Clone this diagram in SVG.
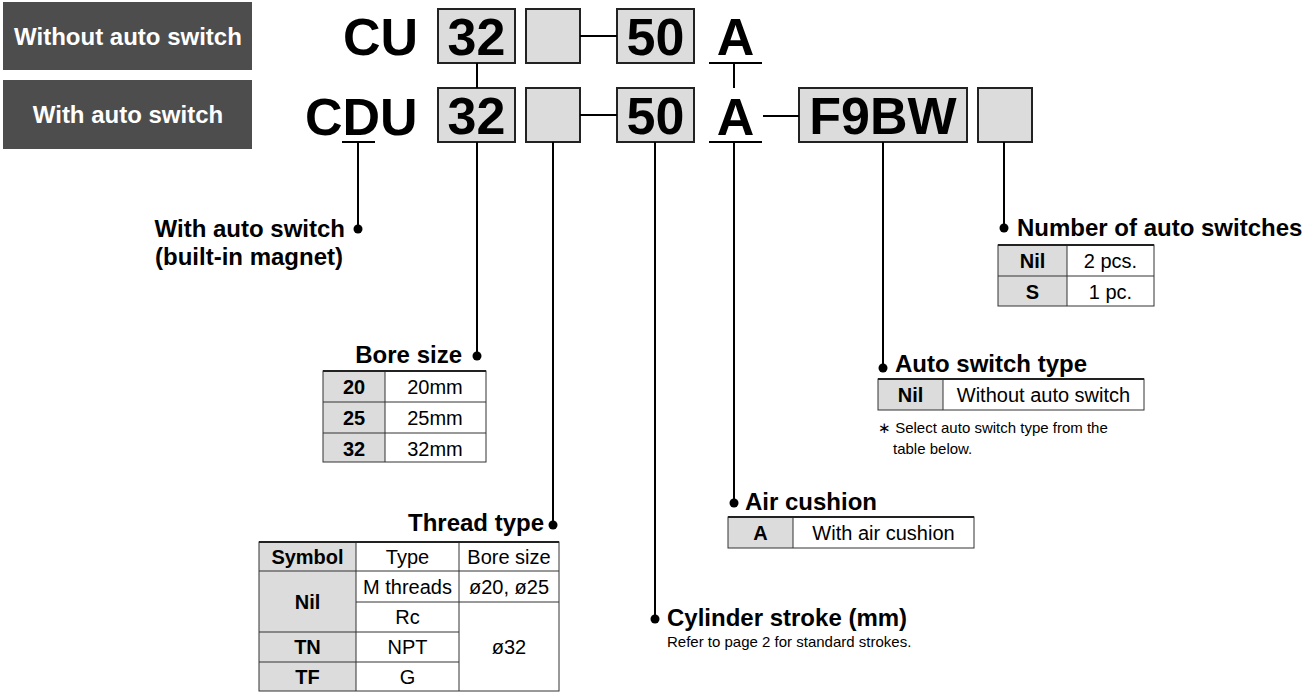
<svg xmlns="http://www.w3.org/2000/svg" width="1314" height="692" viewBox="0 0 1314 692">
<style>
text{font-family:"Liberation Sans",Arial,sans-serif;fill:#000}
.lbl{font-size:24px;font-weight:bold;fill:#fff}
.big{font-size:52px;font-weight:bold}
.box{fill:#dcdcdc;stroke:#222;stroke-width:2}
.ln{stroke:#000;stroke-width:2;fill:none}
.h{font-size:24px;font-weight:bold}
.c{font-size:20px;text-anchor:middle}
.cb{font-size:20px;font-weight:bold;text-anchor:middle}
.g{fill:#dcdcdc}
.tb{stroke:#333;stroke-width:1;fill:none}
.tt{stroke:#222;stroke-width:2}
.note{font-size:15px}
</style>
<g id="label-without"><rect x="3" y="2" width="249" height="68" fill="#4d4d4d"/><text class="lbl" x="128" y="45" text-anchor="middle">Without auto switch</text></g>
<g id="label-with"><rect x="3" y="80" width="249" height="69" fill="#4d4d4d"/><text class="lbl" x="128" y="123" text-anchor="middle">With auto switch</text></g>

<g id="row-top">
<text class="big" x="343" y="55">CU</text>
<rect class="box" x="438" y="9" width="77" height="54"/><text class="big" x="476.5" y="55" text-anchor="middle">32</text>
<rect class="box" x="526" y="9" width="54" height="54"/>
<rect class="box" x="617" y="9" width="77" height="54"/><text class="big" x="655.5" y="55" text-anchor="middle">50</text>
<text class="big" x="735.5" y="55" text-anchor="middle">A</text>
</g>
<g id="row-bottom">
<text class="big" x="305" y="135">CDU</text>
<rect class="box" x="438" y="88" width="77" height="54"/><text class="big" x="476.5" y="134" text-anchor="middle">32</text>
<rect class="box" x="526" y="88" width="54" height="54"/>
<rect class="box" x="617" y="88" width="77" height="54"/><text class="big" x="655.5" y="134" text-anchor="middle">50</text>
<text class="big" x="735.5" y="135" text-anchor="middle">A</text>
<rect class="box" x="799" y="88" width="168" height="54"/><text class="big" x="883" y="134" text-anchor="middle">F9BW</text>
<rect class="box" x="978" y="88" width="54" height="54"/>
</g>

<g id="connectors">
<path class="ln" d="M477 63V88M580 36H617M580 115H617M709 63H762M734 63V88M709 142H762M763 116H799M342 142H375"/>
<path class="ln" d="M358 142V229M477 142V356M553 142V525M655 142V619M734 142V503M883 142V368M1004 142V228"/>
<g fill="#000">
<circle cx="358" cy="229" r="4.5"/><circle cx="477" cy="356" r="4.5"/><circle cx="553" cy="525" r="4.5"/><circle cx="655" cy="619" r="4.5"/><circle cx="734" cy="503" r="4.5"/><circle cx="883" cy="368" r="4.5"/><circle cx="1004" cy="228" r="4.5"/>
</g>
</g>

<g id="with-auto-switch">
<text class="h" x="345" y="237" text-anchor="end">With auto switch</text>
<text class="h" x="155" y="265">(built-in magnet)</text>
</g>

<g id="bore-size">
<text class="h" x="462" y="363" text-anchor="end">Bore size</text>
<rect class="g" x="323" y="371" width="62" height="91"/>
<rect class="tb" x="323" y="371" width="163" height="91"/>
<path class="tb" d="M385 371V462M323 402H486M323 433H486"/>
<path class="tt" d="M323 371H486"/>
<text class="cb" x="354" y="394">20</text><text class="c" x="435" y="394">20mm</text>
<text class="cb" x="354" y="425">25</text><text class="c" x="435" y="425">25mm</text>
<text class="cb" x="354" y="456">32</text><text class="c" x="435" y="456">32mm</text>
</g>

<g id="thread-type">
<text class="h" x="544" y="531" text-anchor="end">Thread type</text>
<rect class="g" x="259" y="542" width="97" height="149"/>
<rect class="tb" x="259" y="542" width="300" height="149"/>
<path class="tb" d="M356 542V691M459 542V691M259 571H559M356 602H559M259 632H459M259 662H459"/>
<path class="tt" d="M259 542H559"/>
<text class="cb" x="307.5" y="564">Symbol</text><text class="c" x="407.5" y="564">Type</text><text class="c" x="509" y="564">Bore size</text>
<text class="cb" x="307.5" y="609">Nil</text>
<text class="c" x="407.5" y="594">M threads</text><text class="c" x="509" y="594">ø20, ø25</text>
<text class="c" x="407.5" y="624">Rc</text>
<text class="cb" x="307.5" y="654">TN</text><text class="c" x="407.5" y="654">NPT</text><text class="c" x="509" y="654">ø32</text>
<text class="cb" x="307.5" y="684">TF</text><text class="c" x="407.5" y="684">G</text>
</g>

<g id="cylinder-stroke">
<text class="h" x="667" y="626">Cylinder stroke (mm)</text>
<text class="note" x="667" y="647">Refer to page 2 for standard strokes.</text>
</g>

<g id="air-cushion">
<text class="h" x="745" y="510">Air cushion</text>
<rect class="g" x="728" y="517" width="65" height="31"/>
<rect class="tb" x="728" y="517" width="246" height="31"/>
<path class="tb" d="M793 517V548"/>
<path class="tt" d="M728 517H974"/>
<text class="cb" x="760.5" y="540">A</text><text class="c" x="883.5" y="540">With air cushion</text>
</g>

<g id="auto-switch-type">
<text class="h" x="895" y="372">Auto switch type</text>
<rect class="g" x="878" y="379" width="65" height="31"/>
<rect class="tb" x="878" y="379" width="266" height="31"/>
<path class="tb" d="M943 379V410"/>
<path class="tt" d="M878 379H1144"/>
<text class="cb" x="910.5" y="402">Nil</text><text class="c" x="1043.5" y="402">Without auto switch</text>
<text class="note" x="878" y="433">∗ Select auto switch type from the</text>
<text class="note" x="893" y="454">table below.</text>
</g>

<g id="number-of-switches">
<text class="h" x="1017" y="236">Number of auto switches</text>
<rect class="g" x="998" y="245" width="69" height="61"/>
<rect class="tb" x="998" y="245" width="156" height="61"/>
<path class="tb" d="M1067 245V306M998 276H1154"/>
<path class="tt" d="M998 245H1154"/>
<text class="cb" x="1032.5" y="268">Nil</text><text class="c" x="1110.5" y="268">2 pcs.</text>
<text class="cb" x="1032.5" y="299">S</text><text class="c" x="1110.5" y="299">1 pc.</text>
</g>
</svg>
